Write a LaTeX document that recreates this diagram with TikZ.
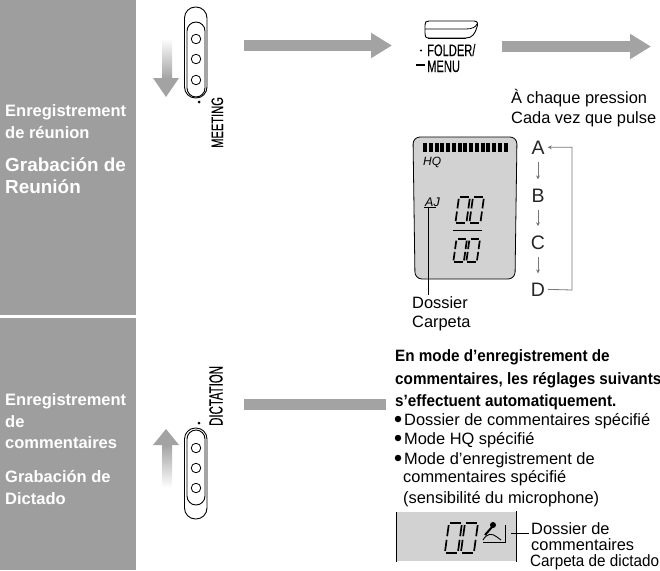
\documentclass[tikz,border=0pt]{standalone}
\usepackage{fontspec}
\setmainfont{Liberation Sans}
\newfontfamily\narrowfont[FakeStretch=0.67,FakeBold=0.1]{Liberation Sans}
\newfontfamily\tallfont[FakeStretch=0.6,FakeBold=0.1]{Liberation Sans}
\newfontfamily\boldtight[FakeStretch=0.93]{Liberation Sans}
\usetikzlibrary{arrows.meta, positioning, calc}
\definecolor{bandgray}{HTML}{9E9E9E}
\definecolor{arrowgray}{HTML}{A3A3A3}
\definecolor{lcdgray}{HTML}{D2D2D2}
\definecolor{cyclegray}{HTML}{777777}

% two slanted lcd zeros: x, y of top left, digit width, digit height, pitch
\newcommand{\lcdzeros}[5]{%
  \foreach \dx in {0,#5} {
    \begin{scope}[shift={(#1+\dx,#2)}, xslant=0.14, x=#3pt, y=-#4pt]
      \foreach \ax/\ay/\bx/\by in {0.1/0/0.9/0, 0/0.07/0/0.44, 1/0.07/1/0.44,
                                   0/0.56/0/0.93, 1/0.56/1/0.93, 0.1/1/0.9/1}
        \draw[line width=1.7pt] (\ax,\ay) -- (\bx,\by);
    \end{scope}
  }%
}

\begin{document}
\begin{tikzpicture}[
    x=1pt, y=-1pt,
    band/.style={fill=bandgray, draw=none},
    sidelabel/.style={anchor=base west, inner sep=0pt, text=white,
                      font=\fontsize{16.5}{20}\selectfont\bfseries},
    sidelarge/.style={sidelabel, font=\fontsize{18.9}{22}\selectfont\bfseries},
    body/.style={anchor=base west, inner sep=0pt, font=\fontsize{16.4}{20}\selectfont},
    boldbody/.style={anchor=base west, inner sep=0pt,
                     font=\fontsize{16.4}{20}\selectfont\boldtight\bfseries},
    narrow/.style={anchor=base west, inner sep=0pt,
                   font=\fontsize{16.6}{20}\selectfont\narrowfont},
    tall/.style={anchor=base west, inner sep=0pt,
                 font=\fontsize{19}{20}\selectfont\tallfont},
    letter/.style={anchor=base, inner sep=0pt, font=\fontsize{19.5}{22}\selectfont, text=black!85},
    bigarrow/.style={line width=11pt, draw=arrowgray,
                     -{Triangle[width=24pt, length=21pt]}},
    cycle/.style={draw=cyclegray, line width=0.8pt},
    stepper/.style={cycle, -{Stealth[length=4pt, width=4pt]}},
    hole/.style={circle, draw, line width=0.8pt, inner sep=0pt, minimum size=9.5pt},
    bulletdot/.style={circle, fill=black, inner sep=0pt, minimum size=6.5pt},
    lcd/.style={fill=lcdgray, draw=black, line width=0.8pt, rounded corners=7pt},
  ]
  \useasboundingbox (0,0) rectangle (660,570);

  % left bands
  \fill[band] (0,0) rectangle (136,315);
  \fill[band] (0,318) rectangle (136,570);
  \node[sidelabel] (reca) at (5,116) {Enregistrement};
  \node[sidelabel] (recb) at (5,138) {de réunion};
  \node[sidelarge] (graa) at (5,171) {Grabación de};
  \node[sidelarge] (grab) at (5,193) {Reunión};
  \node[sidelabel] (coma) at (5,405) {Enregistrement};
  \node[sidelabel] (comb) at (5,427) {de};
  \node[sidelabel] (comc) at (5,448) {commentaires};
  \node[sidelabel] (dica) at (5,482) {Grabación de};
  \node[sidelabel] (dicb) at (5,504) {Dictado};

  % top switch
  \draw[line width=0.9pt, rounded corners=11pt] (184.5,7) rectangle (207,98);
  \draw[line width=0.9pt, rounded corners=9pt] (187,22) rectangle (205,97);
  \node[hole] (hola) at (196,39) {};
  \node[hole] (holb) at (196,59) {};
  \node[hole] (holc) at (196,80) {};
  \fill (199,102) circle (1.5);
  \node[narrow, rotate=90] (meeting) at (223,148) {MEETING};
  \shade[top color=white, bottom color=arrowgray] (162,38) rectangle (172,78);
  \fill[arrowgray] (153,78) -- (179,78) -- (166,97) -- cycle;

  % bottom switch
  \draw[line width=0.9pt, rounded corners=11pt] (184.5,428) rectangle (207,519);
  \draw[line width=0.9pt, rounded corners=9pt] (187,430) rectangle (205,505);
  \node[hole] (hold) at (196,448) {};
  \node[hole] (hole) at (196,468) {};
  \node[hole] (holf) at (196,488) {};
  \fill (199,423) circle (1.5);
  \node[tall, rotate=90] (dictation) at (222.5,426) {DICTATION};
  \shade[bottom color=white, top color=arrowgray] (162,445) rectangle (172,488);
  \fill[arrowgray] (153,445) -- (179,445) -- (166,429) -- cycle;

  % big arrows
  \coordinate (fromsw) at (244,45.5);
  \coordinate (tobtn) at (392,45.5);
  \coordinate (frombtn) at (502,46.5);
  \coordinate (tonext) at (651,46.5);
  \coordinate (fromdic) at (244,404.5);
  \coordinate (todic) at (386,404.5);
  \draw[bigarrow] (fromsw) -- (tobtn);
  \draw[bigarrow] (frombtn) -- (tonext);
  \draw[draw=arrowgray, line width=11pt] (fromdic) -- (todic);

  % folder button
  \draw[line width=0.9pt] (429,21) -- (474,21) .. controls (478,21) and (478,24) .. (477,27)
    .. controls (475,34) and (472,38) .. (466,38) -- (429,38)
    .. controls (425,38) and (425,36) .. (425,33) -- (425,25)
    .. controls (425,22) and (426,21) .. (429,21);
  \draw[line width=1.6pt] (428,38.5) -- (466,38.5);
  \draw[line width=0.8pt] (425,29) -- (466,29) .. controls (472,29) and (476,27) .. (477,24);
  \node[narrow] (folder) at (427,56) {FOLDER/};
  \node[narrow] (menu) at (427,72) {MENU};
  \fill (421,50.5) circle (1.2);
  \draw[line width=2pt] (416,65) -- (425,65);

  \node[body] (chaque) at (511,103) {À chaque pression};
  \node[body] (cada) at (511,123) {Cada vez que pulse};

  % display
  \draw[lcd] (413,137) -- (517,137) -- (515,279) -- (415,279) -- cycle;
  \foreach \i in {0,...,14}
    \fill (423+\i*5.75,143) rectangle ++(4,9);
  \node[anchor=base west, inner sep=0pt, font=\fontsize{12}{14}\selectfont\itshape] (hq) at (423,165) {HQ};
  \node[anchor=base west, inner sep=0pt, font=\fontsize{12.5}{14}\selectfont\itshape] (folderic) at (425,206) {AJ};
  \draw[line width=0.8pt] (424,207) -- (436,207);
  \coordinate (leadtop) at (428,207);
  \lcdzeros{459}{197}{11}{26}{14}
  \draw[line width=0.8pt] (453,230) -- (482,230);
  \lcdzeros{456.5}{239}{10.5}{23}{13}
  \node[body] (dossier) at (412,308) {Dossier};
  \node[body] (carpeta) at (412,327) {Carpeta};
  \coordinate (leadend) at (428,295);
  \draw[line width=0.8pt] (leadtop) -- (leadend);

  % folder cycle
  \node[letter] (lta) at (538,154) {A};
  \node[letter] (ltb) at (538,202) {B};
  \node[letter] (ltc) at (538,249) {C};
  \node[letter] (ltd) at (538,296) {D};
  \draw[stepper, shorten <=8pt, shorten >=9pt] (lta) -- (ltb);
  \draw[stepper, shorten <=8pt, shorten >=9pt] (ltb) -- (ltc);
  \draw[stepper, shorten <=8pt, shorten >=9pt] (ltc) -- (ltd);
  \draw[stepper, shorten <=3pt, shorten >=3pt] (ltd.east) -- (572,290) |- (lta.east);

  % dictation notes
  \node[boldbody] (nota) at (395,361) {En mode d’enregistrement de};
  \node[boldbody] (notb) at (395,384) {commentaires, les réglages suivants};
  \node[boldbody] (notc) at (395,406) {s’effectuent automatiquement.};
  \node[bulletdot] (bula) at (398,419) {};
  \node[bulletdot] (bulb) at (398,438) {};
  \node[bulletdot] (bulc) at (398,458) {};
  \node[body] (lina) at (404,425) {Dossier de commentaires spécifié};
  \node[body] (linb) at (404,444) {Mode HQ spécifié};
  \node[body] (linc) at (404,464) {Mode d’enregistrement de};
  \node[body] (lind) at (403,482) {commentaires spécifié};
  \node[body] (line) at (403,503) {(sensibilité du microphone)};

  % dictation display
  \fill[lcdgray] (396,512) rectangle (516,561);
  \draw[line width=0.8pt] (396,512) -- (396,562);
  \draw[line width=0.8pt] (516,511) -- (516,562);
  \lcdzeros{449}{523}{13}{30}{16}
  \fill (493,525) circle (3);
  \draw[line width=2pt] (492,527) -- (485,535);
  \draw[line width=0.9pt] (483,540) .. controls (487,533) and (492,533) .. (497,537) -- (501,540);
  \draw[line width=0.9pt] (505,525) -- (505,542) -- (483,542);
  \coordinate (noteat) at (511,533);
  \coordinate (noteto) at (529,533);
  \draw[line width=0.8pt] (noteat) -- (noteto);
  \node[body] (dosa) at (531,534) {Dossier de};
  \node[body] (dosb) at (531,550) {commentaires};
  \node[body, font=\fontsize{16.4}{20}\selectfont\boldtight] (dosc) at (530,566.5) {Carpeta de dictado};

\end{tikzpicture}
\end{document}
